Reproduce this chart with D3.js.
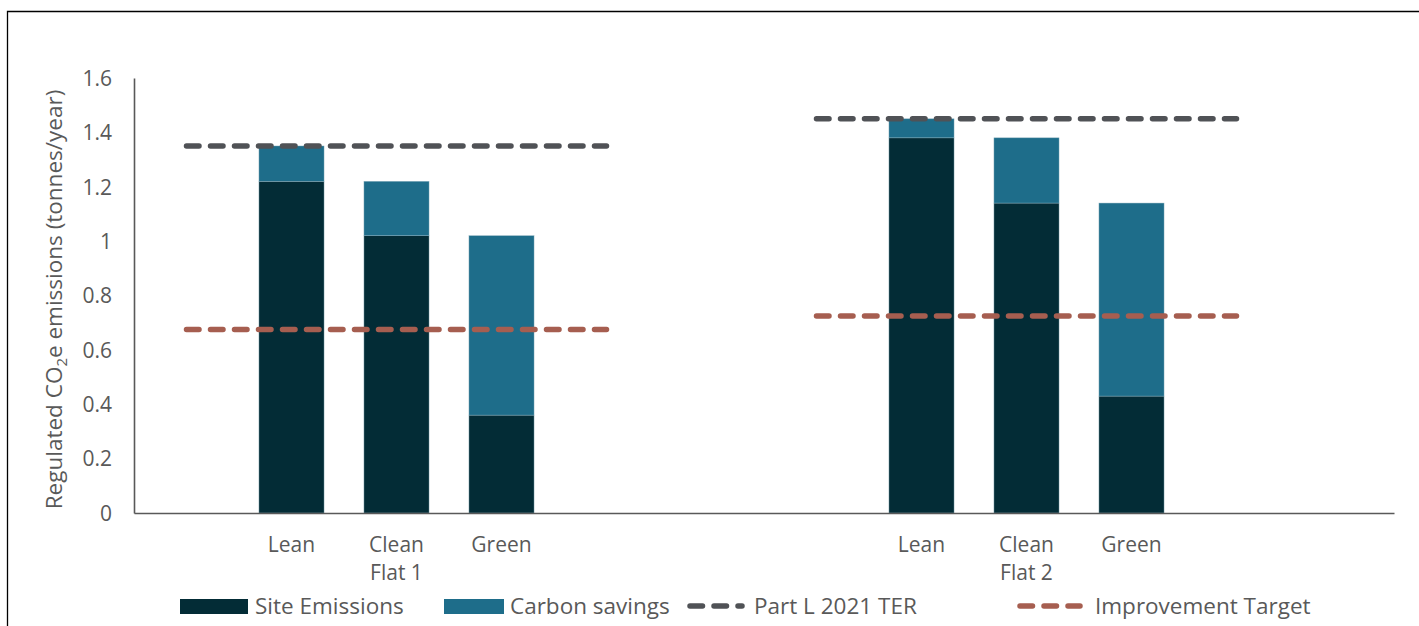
<!DOCTYPE html>
<html>
<head>
<meta charset="utf-8">
<script src="https://cdn.jsdelivr.net/npm/d3@7"></script>
<style>
  html, body { margin: 0; padding: 0; background: #fff; }
  svg { display: block; font-family: "Open Sans", "Noto Sans", sans-serif; }
</style>
</head>
<body>
<svg id="chart" width="1419" height="626"></svg>
<script>
// Category slots along the x axis (blank slots give the spacing between flats)
const slots = ["s0", "Lean1", "Clean1", "Green1", "s4", "s5", "s6", "Lean2", "Clean2", "Green2", "s10", "s11"];
const slotLabels = ["", "Lean", "Clean", "Green", "", "", "", "Lean", "Clean", "Green", "", ""];
const groupLabels = [{ slot: "Clean1", text: "Flat 1" }, { slot: "Clean2", text: "Flat 2" }];

// Stacked bar values (tonnes/year)
const barSlots = ["Lean1", "Clean1", "Green1", "Lean2", "Clean2", "Green2"];
const siteEmissions = [1.22, 1.02, 0.36, 1.38, 1.14, 0.43];
const carbonSavings = [0.13, 0.20, 0.66, 0.07, 0.24, 0.71];

// Reference lines per flat: slots spanned and value
const lineSpans = [["s0", "s4"], ["s6", "s10"]];
const terValues = [1.35, 1.45];
const targetValues = [0.675, 0.725];

const yTicks = [0, 0.2, 0.4, 0.6, 0.8, 1, 1.2, 1.4, 1.6];

const colors = {
  site: "#032c36",
  savings: "#1e6d8a",
  ter: "#505256",
  target: "#a65e50",
  text: "#595959",
  axis: "#595959"
};

const svg = d3.select("#chart");

// outer frame
svg.append("path")
  .attr("d", "M7.5,626 L7.5,11.5 L1419,11.5")
  .attr("fill", "none").attr("stroke", "#000").attr("stroke-width", 1.3);

const plot = { left: 134, right: 1394, top: 78, bottom: 513 };

const x = d3.scaleBand().domain(slots).range([plot.left, plot.right]).paddingInner(0.38).paddingOuter(0.19);
const y = d3.scaleLinear().domain([0, 1.6]).range([plot.bottom, plot.top]);
const cx = s => x(s) + x.bandwidth() / 2;

// Bars
const stackData = barSlots.map((s, i) => ({ slot: s, site: siteEmissions[i], savings: carbonSavings[i] }));
const series = d3.stack().keys(["site", "savings"])(stackData);
svg.append("g").selectAll("g").data(series).join("g")
  .attr("fill", d => colors[d.key])
  .selectAll("rect").data(d => d).join("rect")
  .attr("x", d => x(d.data.slot))
  .attr("width", x.bandwidth())
  .attr("y", d => y(d[1]))
  .attr("height", d => y(d[0]) - y(d[1]))
  .attr("stroke", "#8fb3c0").attr("stroke-width", 0.6).attr("stroke-opacity", 0.7);

// Dashed reference lines
function dashedLine(values, color) {
  svg.append("g").selectAll("line").data(values).join("line")
    .attr("x1", (d, i) => cx(lineSpans[i][0]))
    .attr("x2", (d, i) => cx(lineSpans[i][1]))
    .attr("y1", d => y(d)).attr("y2", d => y(d))
    .attr("stroke", color).attr("stroke-width", 5.5)
    .attr("stroke-linecap", "round").attr("stroke-dasharray", "12.5 11.5");
}
dashedLine(terValues, colors.ter);
dashedLine(targetValues, colors.target);

const labelFont = 21;

// Y axis
const yAxis = svg.append("g").attr("transform", `translate(${plot.left},0)`)
  .call(d3.axisLeft(y).tickValues(yTicks).tickSize(0).tickPadding(22).tickFormat(d => d3.format("")(d)));
yAxis.select(".domain").attr("stroke", colors.axis).attr("stroke-width", 1.6);
yAxis.selectAll("text").attr("fill", colors.text).attr("font-size", labelFont)
  .attr("font-family", "Open Sans, Noto Sans, sans-serif").attr("dy", "0.35em");

// X axis
const xAxis = svg.append("g").attr("transform", `translate(0,${plot.bottom})`)
  .call(d3.axisBottom(x).tickSize(0).tickFormat((d, i) => slotLabels[i]));
xAxis.select(".domain").attr("stroke", colors.axis).attr("stroke-width", 1.6);
xAxis.selectAll("text").attr("fill", colors.text).attr("font-size", labelFont)
  .attr("font-family", "Open Sans, Noto Sans, sans-serif")
  .attr("y", 39).attr("dy", 0);

svg.append("g").selectAll("text").data(groupLabels).join("text")
  .attr("x", d => cx(d.slot)).attr("y", 580)
  .attr("text-anchor", "middle").attr("fill", colors.text).attr("font-size", labelFont)
  .text(d => d.text);

// Y axis title with subscript
const yTitle = svg.append("text")
  .attr("transform", `translate(62,${(plot.top + plot.bottom) / 2 + 4}) rotate(-90)`)
  .attr("text-anchor", "middle").attr("fill", colors.text).attr("font-size", 22.5);
yTitle.append("tspan").text("Regulated CO");
yTitle.append("tspan").attr("font-size", 15).attr("dy", 5).text("2");
yTitle.append("tspan").attr("dy", -5).text("e emissions (tonnes/year)");

// Legend
const legendItems = [
  { label: "Site Emissions", type: "rect", color: colors.site, x: 180, w: 68, tx: 255 },
  { label: "Carbon savings", type: "rect", color: colors.savings, x: 444, w: 60, tx: 510 },
  { label: "Part L 2021 TER", type: "line", color: colors.ter, x: 690, w: 52, tx: 754 },
  { label: "Improvement Target", type: "line", color: colors.target, x: 1020, w: 60, tx: 1095 }
];
const legend = svg.append("g");
legendItems.forEach(it => {
  const g = legend.append("g");
  if (it.type === "rect") {
    g.append("rect").attr("x", it.x).attr("y", 599).attr("width", it.w).attr("height", 15).attr("fill", it.color);
  } else {
    g.append("line").attr("x1", it.x).attr("x2", it.x + it.w).attr("y1", 606).attr("y2", 606)
      .attr("stroke", it.color).attr("stroke-width", 5.5).attr("stroke-linecap", "round")
      .attr("stroke-dasharray", "12.5 11.5");
  }
  g.append("text").attr("x", it.tx).attr("y", 614).attr("fill", colors.text).attr("font-size", 22.5).text(it.label);
});
</script>
</body>
</html>
